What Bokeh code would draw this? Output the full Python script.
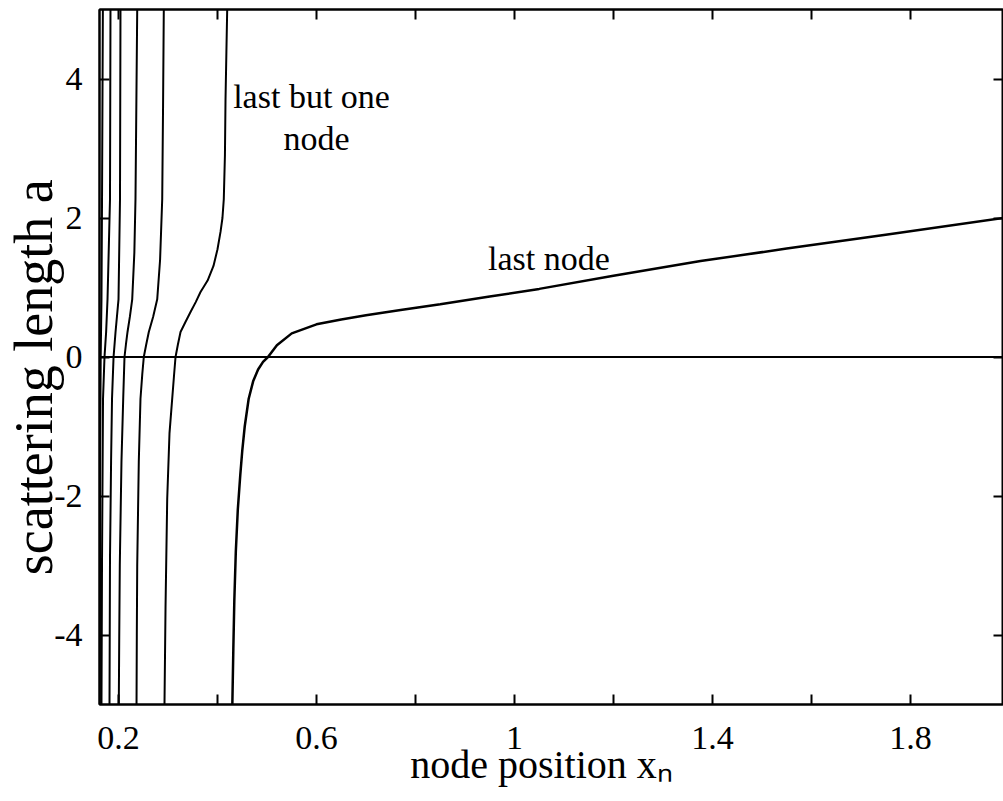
from bokeh.plotting import figure
from bokeh.models import Range1d, FixedTicker, LinearAxis, CustomJSTickFormatter, Span
from bokeh.embed import file_html
from bokeh.resources import INLINE
from bokeh.core.properties import value

# ---- data (node position x_n, scattering length a) ----
last_node_x = [0.430, 0.432, 0.434, 0.437, 0.441, 0.446, 0.450, 0.455, 0.463, 0.472, 0.482,
               0.492, 0.502, 0.520, 0.550, 0.600, 0.650, 0.700, 0.770, 0.850, 0.950, 1.050,
               1.200, 1.376, 1.550, 1.750, 1.988]
last_node_a = [-5.0, -4.2, -3.5, -2.8, -2.2, -1.7, -1.35, -1.0, -0.6, -0.35, -0.18,
               -0.07, 0.0, 0.17, 0.34, 0.47, 0.54, 0.60, 0.676, 0.76, 0.87, 0.98,
               1.17, 1.38, 1.56, 1.76, 2.0]

last_but_one_x = [0.2929, 0.2950, 0.2984, 0.3030, 0.3085, 0.3120, 0.3152, 0.3200, 0.3253,
                  0.3350, 0.3455, 0.3560, 0.3657, 0.3800, 0.3919, 0.4000, 0.4061, 0.4100,
                  0.4127, 0.4150, 0.4162, 0.4180, 0.4196]
last_but_one_a = [-5.0, -3.6, -2.04, -1.1, -0.60, -0.28, 0.0, 0.18, 0.36,
                  0.50, 0.647, 0.79, 0.935, 1.10, 1.31, 1.55, 1.80, 2.0,
                  2.27, 2.9, 3.71, 4.4, 5.0]

third_x = [0.2364, 0.2370, 0.2378, 0.2410, 0.2444, 0.2480, 0.2511, 0.2560, 0.2612, 0.2700,
           0.2782, 0.2840, 0.2883, 0.2900, 0.2915]
third_a = [-5.0, -4.0, -3.0, -1.5, -0.6, -0.25, 0.0, 0.18, 0.36, 0.58,
           0.83, 1.4, 2.27, 3.6, 5.0]

fourth_x = [0.2006, 0.2015, 0.2026, 0.2060, 0.2095, 0.2121, 0.2150, 0.2182, 0.2230, 0.2277,
            0.2320, 0.2343, 0.2360, 0.2378]
fourth_a = [-5.0, -4.0, -3.0, -1.5, -0.6, 0.0, 0.18, 0.36, 0.58, 0.83,
            1.5, 2.27, 3.6, 5.0]

fifth_x = [0.1818, 0.1828, 0.1850, 0.1869, 0.1900, 0.1940, 0.2000, 0.2030, 0.2040]
fifth_a = [-5.0, -2.9, -1.5, -0.6, 0.0, 0.36, 0.83, 2.27, 5.0]

sixth_x = [0.1656, 0.1667, 0.1687, 0.1717, 0.1750, 0.1778, 0.1828, 0.1838]
sixth_a = [-5.0, -2.9, -0.6, 0.0, 0.36, 0.83, 2.27, 5.0]

seventh_x = [0.1622, 0.1630, 0.1640, 0.1656, 0.1667, 0.1684]
seventh_a = [-5.0, -1.3, 0.0, 0.83, 2.27, 5.0]

x_major_ticks = [0.2, 0.6, 1.0, 1.4, 1.8]
x_minor_ticks = [0.4, 0.8, 1.2, 1.6]
y_ticks = [-4, -2, 0, 2, 4]

x_title = "node position x\u2099"
y_title = "scattering length a"

FONT = "Liberation Serif"

p = figure(width=1003, height=801, output_backend="svg", toolbar_location=None,
           x_range=Range1d(0.1616, 1.988), y_range=Range1d(-5, 5),
           min_border_left=99, min_border_right=0, min_border_top=9, min_border_bottom=97,
           x_axis_label=x_title + "\u00a0\u00a0", y_axis_label=y_title + "\u00a0\u00a0\u00a0")
p.grid.visible = False
p.background_fill_color = "white"
p.border_fill_color = "white"
p.outline_line_color = "black"
p.outline_line_width = 2

fmt = CustomJSTickFormatter(code="return (Math.round(tick*10)/10).toString();")

xt = FixedTicker(ticks=x_major_ticks, minor_ticks=x_minor_ticks)
yt = FixedTicker(ticks=y_ticks, minor_ticks=[])

def style_axis(ax, show_labels):
    ax.axis_line_color = "black"
    ax.axis_line_width = 2
    ax.major_tick_in = 10
    ax.major_tick_out = 0
    ax.minor_tick_in = 10
    ax.minor_tick_out = 0
    ax.major_tick_line_width = 2
    ax.minor_tick_line_width = 2
    ax.major_tick_line_color = "black"
    ax.minor_tick_line_color = "black"
    ax.major_label_text_font = FONT
    ax.major_label_text_color = "black"
    ax.axis_label_text_font = FONT
    ax.axis_label_text_font_style = "normal"
    ax.axis_label_text_color = "black"
    if not show_labels:
        ax.major_label_text_font_size = "1px"
        ax.major_label_text_color = None
        ax.major_label_standoff = 0

bx = p.xaxis[0]
bx.ticker = xt
bx.formatter = fmt
style_axis(bx, True)
bx.major_label_text_font_size = "34px"
bx.major_label_standoff = 22
bx.axis_label_text_font_size = "40px"
bx.axis_label_standoff = -10

ly = p.yaxis[0]
ly.ticker = yt
ly.formatter = fmt
style_axis(ly, True)
ly.major_label_text_font_size = "34px"
ly.major_label_standoff = 17
ly.axis_label_text_font_size = "54px"
ly.axis_label_standoff = -13

tx = LinearAxis(ticker=xt, formatter=fmt)
style_axis(tx, False)
p.add_layout(tx, "above")
ry = LinearAxis(ticker=yt, formatter=fmt)
style_axis(ry, False)
p.add_layout(ry, "right")

p.add_layout(Span(location=0, dimension="width", line_color="black", line_width=2))

curves = [(seventh_x, seventh_a), (sixth_x, sixth_a), (fifth_x, fifth_a),
          (fourth_x, fourth_a), (third_x, third_a), (last_but_one_x, last_but_one_a)]
for cx, ca in curves:
    p.line(cx, ca, line_color="black", line_width=2)
p.line(last_node_x, last_node_a, line_color="black", line_width=2.5)

txt = dict(text_font=value(FONT), text_font_size="34px", text_align="center",
           text_baseline="alphabetic", text_color="black")
p.text(x=[0.590], y=[3.75], text=["last but one"], **txt)
p.text(x=[0.600], y=[3.14], text=["node"], **txt)
p.text(x=[1.0697], y=[1.424], text=["last node"], **txt)

open("out.html", "w").write(file_html(p, INLINE))
